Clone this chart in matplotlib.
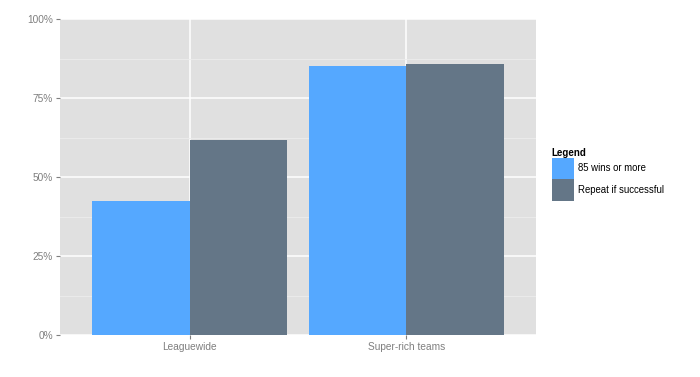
import matplotlib
matplotlib.use("Agg")
import matplotlib.pyplot as plt
import numpy as np
from matplotlib.ticker import FuncFormatter, MultipleLocator

plt.rcParams['font.family'] = ['Liberation Sans', 'DejaVu Sans']

categories = ["Leaguewide", "Super-rich teams"]
series_names = ["85 wins or more", "Repeat if successful"]
wins85 = [0.424, 0.852]
repeat = [0.617, 0.858]
colors = ["#55A8FF", "#647687"]

fig = plt.figure(figsize=(7, 3.77), dpi=100)
ax = fig.add_axes([60/700, 1 - 335/377, 476/700, 316/377])
ax.set_facecolor("#E0E0E0")

x = np.arange(1, len(categories) + 1)
w = 0.45
b1 = ax.bar(x - w/2, wins85, width=w, color=colors[0], label=series_names[0], zorder=3)
b2 = ax.bar(x + w/2, repeat, width=w, color=colors[1], label=series_names[1], zorder=3)

ax.set_xlim(0.4, 2.6)
ax.set_ylim(0, 1.0)
ax.yaxis.set_major_locator(MultipleLocator(0.25))
ax.yaxis.set_minor_locator(MultipleLocator(0.125))
ax.yaxis.set_major_formatter(FuncFormatter(lambda v, p: f"{v*100:.0f}%"))
ax.set_xticks(x)
ax.set_xticklabels(categories)

ax.grid(which="major", color="white", linewidth=1.1, zorder=0)
ax.grid(which="minor", axis="y", color="#EDEDED", linewidth=0.6, zorder=0)
ax.set_axisbelow(True)
for s in ax.spines.values():
    s.set_visible(False)
ax.tick_params(which="major", colors="#7F7F7F", labelcolor="#7F7F7F", labelsize=7.3,
               length=3, width=0.8, pad=2)
ax.tick_params(which="minor", length=0)

leg = ax.legend(handles=[b1, b2], title="Legend", loc="upper left",
                bbox_to_anchor=(548/700, 1 - 144/377), bbox_transform=fig.transFigure,
                frameon=False, fontsize=6.9, title_fontsize=7,
                handlelength=2.3, handleheight=3.1, handletextpad=0.4,
                labelspacing=0.0, borderaxespad=0)
leg.get_title().set_fontweight("bold")
leg._legend_box.align = "left"

fig.savefig("out.png", dpi=100)
